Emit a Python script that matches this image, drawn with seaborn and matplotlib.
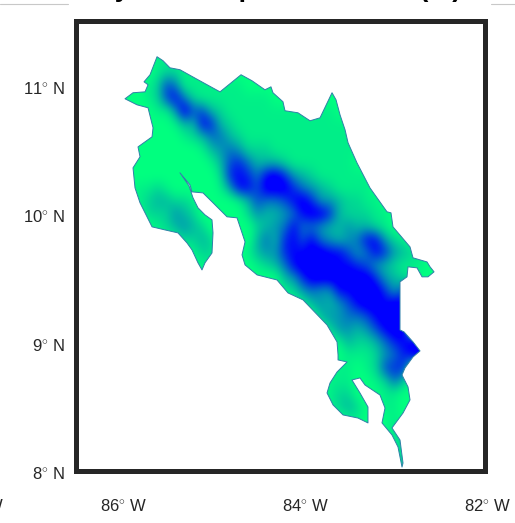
import matplotlib
matplotlib.use("Agg")
import matplotlib.pyplot as plt
from matplotlib.colors import PowerNorm
from matplotlib.lines import Line2D
from matplotlib.patches import Polygon
from matplotlib.transforms import ScaledTranslation
import numpy as np
import seaborn as sns

sns.set_theme(style="white")
plt.rcParams["font.family"] = ["Liberation Sans", "DejaVu Sans"]
plt.rcParams["mathtext.fontset"] = "custom"
plt.rcParams["mathtext.rm"] = "Liberation Sans"

# Coastline / border
outline_px_x = [157,163,170,180,198,220,241,252,265,271,273,283,285,298,310,320,332,336,340,345,348,357,370,387,391,393,410,413,427,430,434,428,422,417,408,407,400,400,404,413,420,413,405,402,408,410,403,392,400,403,402,398,392,382,385,380,365,360,352,360,368,368,358,343,333,327,330,337,347,338,338,337,327,303,288,277,257,245,242,245,237,227,213,203,192,190,180,189,193,198,205,212,213,212,205,202,198,192,187,178,165,152,145,140,135,133,140,138,152,153,148,137,125,133,145,148,144,150]
outline_px_y = [57,61,68,70,80,92,75,81,90,87,93,102,111,113,121,118,93,100,115,130,143,163,188,212,213,227,247,258,262,267,272,277,277,268,267,277,282,330,332,342,351,357,368,375,387,400,413,428,440,463,467,447,435,423,408,395,385,378,380,393,407,423,418,415,405,393,383,372,362,360,355,342,325,300,293,280,275,265,255,242,218,217,203,193,192,185,173,186,198,208,215,220,233,253,263,270,263,250,243,233,230,227,213,203,188,168,157,147,137,128,108,105,99,93,92,85,82,75]
outline_lon = [round(-86.5 + (x - 75.5) / 91.0, 3) for x in outline_px_x]
outline_lat = [round(8.0 + (471 - y) / 128.5, 3) for y in outline_px_y]

# Elevation classes 0 (low) .. 9 (high), one string per latitude, north to south,
# one digit per 0.1 degree of longitude from 86.0 W
elev_lats = [round(11.2 - 0.1 * i, 1) for i in range(33)]
elev_lons = [round(-86.0 + 0.1 * i, 1) for i in range(35)]
elev_rows = [
    "00001110",
    "00001221111",
    "00012651111111",
    "00012685211111111",
    "000011496632111111111111",
    "00000013387321111111111111",
    "000000012355321111111111111",
    "000000000134542221111111111",
    "00000000001367533321111111",
    "00000000000278758974321111111",
    "0011210000014886999754321111",
    "00123322100001365568974432211",
    "000222432000002433458997322211",
    "0000123432000002345855433433 21".replace(" ", ""),
    "00000012232000035378685434588421",
    "0000000012200013447889988645874321",
    "0000000001100001235899998876432111",
    "000000000000000000347999999974321",
    "000000000000000000124544889997469",
    "00000000000000000000134346899899",
    "00000000000000000000003445568999",
    "00000000000000000000000244346899",
    "00000000000000000000000013223578990",
    "00000000000000000000000001112457890",
    "00000000000000000000000011012677",
    "00000000000000000000000111001253",
    "00000000000000000000000122000110",
    "00000000000000000000000123200110",
    "00000000000000000000000001100010",
    "00000000000000000000000000000022",
    "00000000000000000000000000000003",
    "00000000000000000000000000000003",
    "00000000000000000000000000000003",
]

x_ticks = [-86, -84, -82]
x_labels = ["86$^{\\circ}$ W", "84$^{\\circ}$ W", "82$^{\\circ}$ W"]
y_ticks = [8, 9, 10, 11]
y_labels = ["8$^{\\circ}$ N", "9$^{\\circ}$ N", "10$^{\\circ}$ N", "11$^{\\circ}$ N"]
title_text = "Study area map of elevation (m)"

grid = np.array([[int(c) for c in r.ljust(len(elev_lons), "0")] for r in elev_rows], float)

fig = plt.figure(figsize=(5.15, 5.23), dpi=100, facecolor="white")
ax = fig.add_axes([75.5 / 515, (523 - 471) / 523, (485 - 75.5) / 515, (471 - 21) / 523])

cmap = sns.color_palette("winter_r", as_cmap=True)
dx, dy = 0.05, 0.05
im = ax.imshow(grid, cmap=cmap, norm=PowerNorm(1.3, vmin=0, vmax=8), interpolation="bicubic",
               aspect="auto",
               extent=[elev_lons[0] - dx, elev_lons[-1] + dx, elev_lats[-1] - dy, elev_lats[0] + dy])
land = Polygon(np.column_stack([outline_lon, outline_lat]), closed=True, transform=ax.transData,
               facecolor="none", edgecolor="#2f80a8", linewidth=0.7, joinstyle="round")
ax.add_patch(land)
im.set_clip_path(land)

ax.set_xlim(-86.5, -82)
ax.set_ylim(8, 11.5)
ax.set_xticks(x_ticks, x_labels)
ax.set_yticks(y_ticks, y_labels)
ax.tick_params(length=0, labelsize=12, labelcolor="#262626")
ax.tick_params(axis="y", pad=7.5)
ax.tick_params(axis="x", pad=20)
for lab in ax.get_yticklabels():
    lab.set_verticalalignment("center")
    lab.set_transform(lab.get_transform() + ScaledTranslation(0, -4 / 100, fig.dpi_scale_trans))
for lab in ax.get_xticklabels():
    lab.set_transform(lab.get_transform() + ScaledTranslation(2.5 / 100, 0, fig.dpi_scale_trans))
for s in ax.spines.values():
    s.set_visible(True)
    s.set_linewidth(3.6)
    s.set_color("#262626")
ax.set_facecolor("white")

for x0, x1 in [(0, 68), (491, 515)]:
    fig.add_artist(Line2D([x0 / 515, x1 / 515], [1 - 3.5 / 523, 1 - 3.5 / 523], color="#c8c8c8", lw=0.8))

# Title and a neighbouring label are cut off by the edge of the picture in the reference
fig.text(55 / 515, 1 + 4 / 523, title_text, fontsize=19.4, fontweight="bold", color="black",
         ha="left", va="baseline")
fig.text(3 / 515, 1 - 511 / 523, "W", fontsize=12, color="#262626", ha="right", va="baseline")

fig.savefig("out.png", dpi=100)
